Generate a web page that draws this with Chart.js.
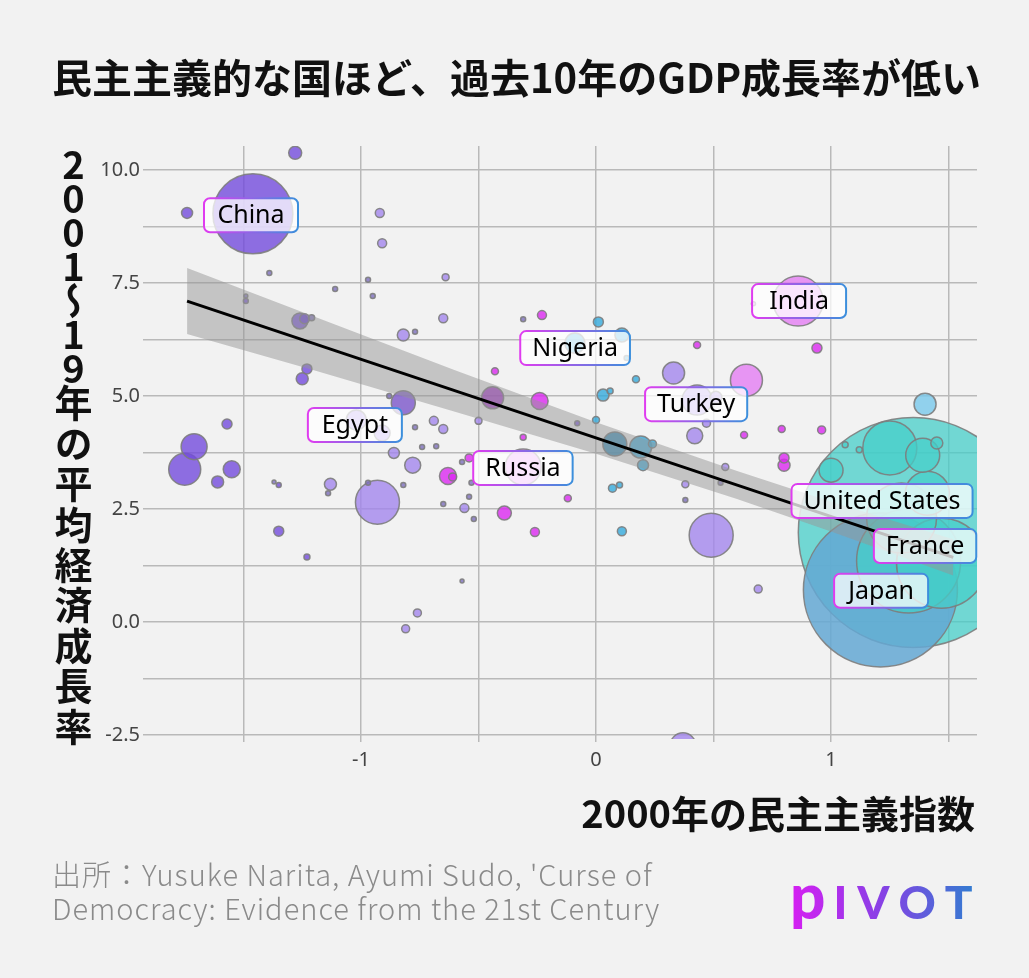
<!DOCTYPE html>
<html>
<head>
<meta charset="utf-8">
<script src="https://cdn.jsdelivr.net/npm/chart.js@4.4.0/dist/chart.umd.min.js"></script>
<style>
  html, body { margin: 0; padding: 0; background: #f2f2f2; }
  #wrap { position: relative; width: 1029px; height: 978px; overflow: hidden; }
  #chart { position: absolute; left: 0; top: 0; }
  .title { position: absolute; left: 52px; top: 47px; font: bold 40px "Noto Sans CJK JP"; color: #111; white-space: nowrap; }
  .ytitle { position: absolute; left: 54px; top: 146px; writing-mode: vertical-rl; text-orientation: upright;
            font: bold 38px/38px "Noto Sans CJK JP"; color: #111; white-space: nowrap; }
  .ytitle .num { letter-spacing: -4px; }
  .ytitle .jp { letter-spacing: 2.4px; }
  .xtitle { position: absolute; right: 54px; top: 784px; font: bold 38px "Noto Sans CJK JP"; color: #111; white-space: nowrap; }
  .source { position: absolute; left: 52px; top: 856px; font: 300 29px/34px "Noto Sans CJK JP"; letter-spacing: 1px; color: #8a8a8a; white-space: nowrap; }
  .logo { position: absolute; left: 790px; top: 858px; font: 900 46px "Lato"; letter-spacing: 10px; white-space: nowrap;
          background: linear-gradient(90deg, #d61ff2, #8c3ee6 45%, #2a82cf); -webkit-background-clip: text; background-clip: text; color: transparent; }
  .logo .p { font-size: 62px; letter-spacing: 8px; }
</style>
</head>
<body>
<div id="wrap">
  <canvas id="chart" width="1029" height="978"></canvas>
  <div class="title">民主主義的な国ほど、過去10年のGDP成長率が低い</div>
  <div class="ytitle"><span class="num">2001〜19</span><span class="jp">年の平均経済成長率</span></div>
  <div class="xtitle">2000年の民主主義指数</div>
  <div class="source">出所：Yusuke Narita, Ayumi Sudo, 'Curse of<br>Democracy: Evidence from the 21st Century</div>
  <div class="logo"><span class="p">p</span>IVOT</div>
</div>
<script>
// democracy index in 2000 (x), avg GDP growth 2001-19 (y), bubble radius (population), colour group
var democracy = [-1.28, -1.46, -1.74, -0.92, -0.91, -1.39, -1.11, -0.97, -0.95, -1.49,
  -1.49, -1.26, -1.24, -1.21, -0.82, -0.77, -0.64, -0.65, -0.31, -0.23,
  0.01, 0.11, 0.86, 0.67, -1.23, -1.25, -1.57, -1.71, -1.75, -1.55,
  -1.61, -1.37, -1.35, -1.35, -0.82, -0.88, -1.02, -0.91, -0.77, -0.86,
  -0.78, -1.13, -1.14, -0.93, -0.97, -0.82, -0.09, 0.13, -0.43, 0.17,
  0.33, 0.43, -0.44, -0.24, 0.03, 0.06, -0.50, -0.69, -0.65, -0.74,
  -0.68, -0.31, -0.08, 0.00, 0.08, 0.19, 0.24, 0.20, -0.54, -0.57,
  -0.31, -0.63, -0.61, -0.53, -0.54, 0.07, 0.10, -0.12, 0.38, 0.38,
  -0.65, -0.56, -0.52, -0.39, -0.26, 0.11, 0.49, 0.94, 0.64, 0.43,
  0.51, 0.42, 0.47, 0.63, 0.79, 0.96, 0.80, 0.80, 0.55, 0.53,
  1.40, 1.00, 1.35, 1.21, 1.33, 1.25, 1.39, 1.45, 1.06, 1.12,
  1.41, -1.23, -0.76, -0.81, -0.57, 0.37, 0.69, 1.47, 1.30];
var growth = [10.38, 9.03, 9.05, 9.05, 8.38, 7.72, 7.37, 7.57, 7.21, 7.21,
  7.10, 6.66, 6.71, 6.73, 6.35, 6.42, 7.63, 6.72, 6.70, 6.79,
  6.64, 6.35, 7.10, 7.04, 5.60, 5.38, 4.38, 3.88, 3.38, 3.38,
  3.10, 3.10, 3.03, 2.01, 4.85, 5.00, 4.47, 4.18, 4.31, 3.74,
  3.47, 3.05, 2.85, 2.65, 3.08, 3.03, 6.17, 5.84, 5.55, 5.37,
  5.51, 6.13, 4.96, 4.89, 5.02, 5.11, 4.45, 4.45, 4.27, 3.87,
  3.89, 4.09, 4.40, 4.47, 3.94, 3.87, 3.94, 3.47, 3.63, 3.54,
  3.43, 3.23, 3.21, 3.08, 2.77, 2.96, 3.03, 2.74, 3.05, 2.70,
  2.61, 2.52, 2.28, 2.41, 1.99, 2.01, 1.92, 6.06, 5.35, 4.91,
  4.97, 4.12, 4.40, 4.14, 4.27, 4.25, 3.63, 3.47, 3.43, 3.08,
  4.82, 3.36, 1.98, 0.71, 1.35, 3.85, 3.69, 3.96, 3.92, 3.81,
  2.85, 1.44, 0.20, -0.15, 0.91, -2.74, 0.73, 1.30, 2.30];
var population = [6.5, 40, 5.5, 4.5, 4.5, 2.5, 2.5, 2.5, 2.5, 2,
  2.5, 8, 5, 3, 6, 2.5, 3.5, 4.5, 2.5, 4.5,
  5, 7, 25, 2, 5, 6, 5, 13, 16, 8.5,
  6, 2, 2.5, 5, 12, 2.5, 10, 8, 2.5, 5.5,
  8, 6, 2.5, 22, 2.5, 2.5, 10, 2.5, 3.5, 3.5,
  11, 3.5, 11, 8.5, 6, 3, 3.5, 4.5, 4.5, 2.5,
  2.5, 3, 2.5, 3.5, 12, 11, 4, 5.5, 4, 2.5,
  18, 8.5, 4, 2.5, 2.5, 4, 3, 3.5, 3.5, 2.5,
  2.5, 4.5, 2.5, 7, 4.5, 4.5, 22, 5, 16, 15,
  6, 8, 4, 3.5, 3.5, 4, 5, 6, 3.5, 2.5,
  11, 12, 115, 77, 52, 27, 17, 6, 3, 3,
  22, 3, 4, 4, 2, 13, 4, 45, 35];
var group = ['P1', 'P1', 'P1', 'P2', 'P2', 'G', 'G', 'G', 'G', 'G',
  'P1', 'P1', 'P1', 'G', 'P2', 'G', 'P2', 'P2', 'G', 'M',
  'B', 'B', 'MP', 'MP', 'P1', 'P1', 'P1', 'P1', 'P1', 'P1',
  'P1', 'G', 'P1', 'P1', 'P3', 'G', 'P2', 'P2', 'G', 'P2',
  'P2', 'P2', 'G', 'P2', 'G', 'G', 'B', 'B', 'M', 'B',
  'P2', 'M', 'MD', 'M', 'B', 'B', 'P2', 'P2', 'P2', 'G',
  'G', 'M', 'P1', 'B', 'BD', 'B', 'B', 'B', 'M', 'G',
  'MP', 'M', 'M', 'G', 'G', 'B', 'B', 'M', 'P2', 'G',
  'G', 'P2', 'G', 'M', 'M', 'B', 'P2', 'M', 'MP', 'P2',
  'P2', 'P2', 'P2', 'M', 'M', 'M', 'M', 'M', 'P2', 'G',
  'B2', 'T', 'T', 'J', 'T', 'T', 'T', 'T', 'T', 'T',
  'T', 'P1', 'P2', 'P2', 'G', 'P2', 'P2', 'T', 'T'];

// labelled countries
var labelNames = ['China', 'India', 'Nigeria', 'Egypt', 'Turkey', 'Russia', 'United States', 'France', 'Japan'];
var labelX = [-1.468, 0.864, -0.089, -1.026, 0.426, -0.311, 1.217, 1.40, 1.213];
var labelY = [9.00, 7.10, 6.06, 4.36, 4.82, 3.41, 2.68, 1.68, 0.69];

// regression line and its confidence band
var fitX = [-1.74, 1.52];
var fitY = [7.10, 1.43];
var bandX = [-1.74, -1.2, -0.6, 0, 0.6, 1.0, 1.52];
var bandLow = [6.37, 5.57, 4.65, 3.72, 2.72, 2.00, 1.03];
var bandHigh = [7.83, 6.76, 5.57, 4.42, 3.34, 2.66, 1.83];

// axis ticks
var xGrid = [-1.5, -1, -0.5, 0, 0.5, 1, 1.5];
var xTickLabels = [-1, 0, 1];
var yGrid = [-2.5, -1.25, 0, 1.25, 2.5, 3.75, 5, 6.25, 7.5, 8.75, 10];
var yTickLabels = [-2.5, 0, 2.5, 5, 7.5, 10];

var groupColors = {
  P1: 'rgba(115,75,220,0.8)',
  P2: 'rgba(163,134,236,0.8)',
  P3: 'rgba(130,95,205,0.85)',
  G: 'rgba(125,110,190,0.8)',
  M: 'rgba(219,40,240,0.8)',
  MD: 'rgba(160,40,200,0.8)',
  MP: 'rgba(228,125,242,0.8)',
  B: 'rgba(52,170,220,0.8)',
  B2: 'rgba(120,200,235,0.8)',
  BD: 'rgba(50,140,185,0.85)',
  T: 'rgba(70,205,200,0.75)',
  J: 'rgba(100,168,212,0.85)'
};

// draw big bubbles first so small ones stay on top
var bubbles = democracy.map(function (x, i) {
  return { x: x, y: growth[i], r: population[i], g: group[i] };
}).sort(function (a, b) { return b.r - a.r; });

var labelPlugin = {
  id: 'countryLabels',
  afterDatasetsDraw: function (chart) {
    var ctx = chart.ctx, xs = chart.scales.x, ys = chart.scales.y;
    ctx.save();
    ctx.font = '25px "Noto Sans"';
    labelNames.forEach(function (name, i) {
      var cx = xs.getPixelForValue(labelX[i]);
      var cy = ys.getPixelForValue(labelY[i]);
      var w = Math.max(94, ctx.measureText(name).width + 24), h = 34;
      var left = cx - w / 2, top = cy - h / 2;
      ctx.beginPath();
      ctx.roundRect(left, top, w, h, 6);
      ctx.fillStyle = 'rgba(255,255,255,0.75)';
      ctx.fill();
      var grad = ctx.createLinearGradient(left, 0, left + w, 0);
      grad.addColorStop(0, '#e03cf0');
      grad.addColorStop(1, '#3c8fdc');
      ctx.strokeStyle = grad;
      ctx.lineWidth = 2;
      ctx.stroke();
      ctx.fillStyle = '#000';
      ctx.textAlign = 'center';
      ctx.textBaseline = 'middle';
      ctx.fillText(name, cx, cy + 1);
    });
    ctx.restore();
  }
};

var gridStyle = { color: 'rgba(185,185,185,1)', lineWidth: 1.5, drawTicks: true };

new Chart(document.getElementById('chart').getContext('2d'), {
  type: 'bubble',
  data: {
    datasets: [
      {
        type: 'bubble',
        data: bubbles,
        backgroundColor: bubbles.map(function (b) { return groupColors[b.g]; }),
        borderColor: 'rgba(125,125,125,0.9)',
        borderWidth: 1.5,
        clip: 0,
        order: 3
      },
      {
        type: 'line',
        data: bandX.map(function (x, i) { return { x: x, y: bandLow[i] }; }),
        borderWidth: 0,
        pointRadius: 0,
        fill: false,
        clip: 0,
        order: 2
      },
      {
        type: 'line',
        data: bandX.map(function (x, i) { return { x: x, y: bandHigh[i] }; }),
        borderWidth: 0,
        pointRadius: 0,
        fill: 1,
        backgroundColor: 'rgba(150,150,150,0.5)',
        clip: 0,
        order: 2
      },
      {
        type: 'line',
        data: fitX.map(function (x, i) { return { x: x, y: fitY[i] }; }),
        borderColor: '#000',
        borderWidth: 3,
        pointRadius: 0,
        fill: false,
        clip: 0,
        order: 1
      }
    ]
  },
  options: {
    responsive: false,
    animation: false,
    events: [],
    layout: { autoPadding: false, padding: { left: 100, right: 52, top: 146, bottom: 207 } },
    plugins: { legend: { display: false }, tooltip: { enabled: false } },
    scales: {
      x: {
        type: 'linear',
        min: -1.919,
        max: 1.621,
        afterFit: function (s) { s.height = 32; },
        afterBuildTicks: function (s) { s.ticks = xGrid.map(function (v) { return { value: v }; }); },
        grid: Object.assign({ tickLength: 3 }, gridStyle),
        border: { display: false },
        ticks: {
          autoSkip: false,
          maxRotation: 0,
          padding: 6,
          color: '#444',
          font: { family: 'Noto Sans', size: 20 },
          callback: function (v) { return xTickLabels.indexOf(v) >= 0 ? String(v) : ''; }
        }
      },
      y: {
        type: 'linear',
        min: -2.588,
        max: 10.531,
        afterFit: function (s) { s.width = 45; },
        afterBuildTicks: function (s) { s.ticks = yGrid.map(function (v) { return { value: v }; }); },
        grid: Object.assign({ tickLength: 2 }, gridStyle),
        border: { display: false },
        ticks: {
          autoSkip: false,
          padding: 3,
          color: '#444',
          font: { family: 'Noto Sans', size: 20 },
          callback: function (v) { return yTickLabels.indexOf(v) >= 0 ? v.toFixed(1) : ''; }
        }
      }
    }
  },
  plugins: [labelPlugin]
});
</script>
</body>
</html>
